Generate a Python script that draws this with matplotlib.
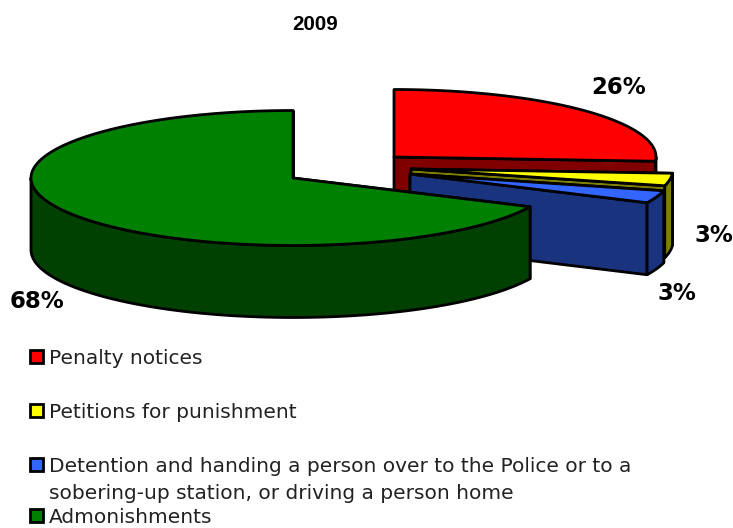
import numpy as np
import matplotlib
matplotlib.use('Agg')
import matplotlib.pyplot as plt
from matplotlib.patches import Polygon, Rectangle

# data
categories = ['Penalty notices', 'Petitions for punishment',
              'Detention and handing a person over to the Police or to a\nsobering-up station, or driving a person home',
              'Admonishments']
values = [26, 3, 3, 68]
percent_labels = ['26%', '3%', '3%', '68%']

top_colors = ['#FF0000', '#FFFF00', '#3366FF', '#008000']
side_colors = ['#800000', '#808000', '#1A337F', '#004000']

# each slice is pulled out, so it has its own centre (pixels)
centers = [(394, 157), (411, 169), (410, 174), (293, 178)]
label_pos = [(619, 88), (714, 235), (677, 293), (37, 302)]
legend_base = [364, 418, 472, 523]

rx, ry = 262, 67.5
depth = 72

fig = plt.figure(figsize=(7.33, 5.28), dpi=100)
ax = fig.add_axes([0, 0, 1, 1])
ax.set_xlim(0, 733)
ax.set_ylim(528, 0)
ax.axis('off')


def rim(c, a):
    # a is clockwise from 12 o'clock, in degrees
    a = np.radians(a)
    return np.column_stack([c[0] + rx * np.sin(a), c[1] - ry * np.cos(a)])


def add_poly(pts, color):
    ax.add_patch(Polygon(pts, closed=True, facecolor=color, edgecolor='black',
                         linewidth=2.0, joinstyle='round'))


start = 0.0
for val, c, top, side in zip(values, centers, top_colors, side_colors):
    end = start + val / sum(values) * 360
    cc = np.array([c])
    down = np.array([0, depth])

    # cut faces
    for a in (start, end):
        p = rim(c, a)
        add_poly(np.vstack([cc, p, p + down, cc + down]), side)

    # outer wall, only the front half of the rim can be seen
    a0, a1 = max(start, 90), min(end, 270)
    if a1 > a0:
        arc = rim(c, np.linspace(a0, a1, 80))
        add_poly(np.vstack([arc, arc[::-1] + down]), side)

    # top
    arc = rim(c, np.linspace(start, end, 200))
    add_poly(np.vstack([cc, arc]), top)
    start = end

for lab, (x, y) in zip(percent_labels, label_pos):
    ax.text(x, y, lab, ha='center', va='center', fontsize=16.5, fontweight='bold',
            family='DejaVu Sans', color='black')

ax.text(315, 25, '2009', ha='center', va='center', fontsize=14.8, fontweight='bold',
        family='Liberation Sans', color='black')

# legend
for name, top, y in zip(categories, top_colors, legend_base):
    ax.add_patch(Rectangle((29.5, y - 14.5), 13.5, 13.5, facecolor=top, edgecolor='black', linewidth=2.0))
    for i, line in enumerate(name.split('\n')):
        ax.text(49, y + i * 27, line, ha='left', va='baseline', fontsize=14.5,
                family='DejaVu Sans', color='#222222')

fig.savefig('out.png', dpi=100)
